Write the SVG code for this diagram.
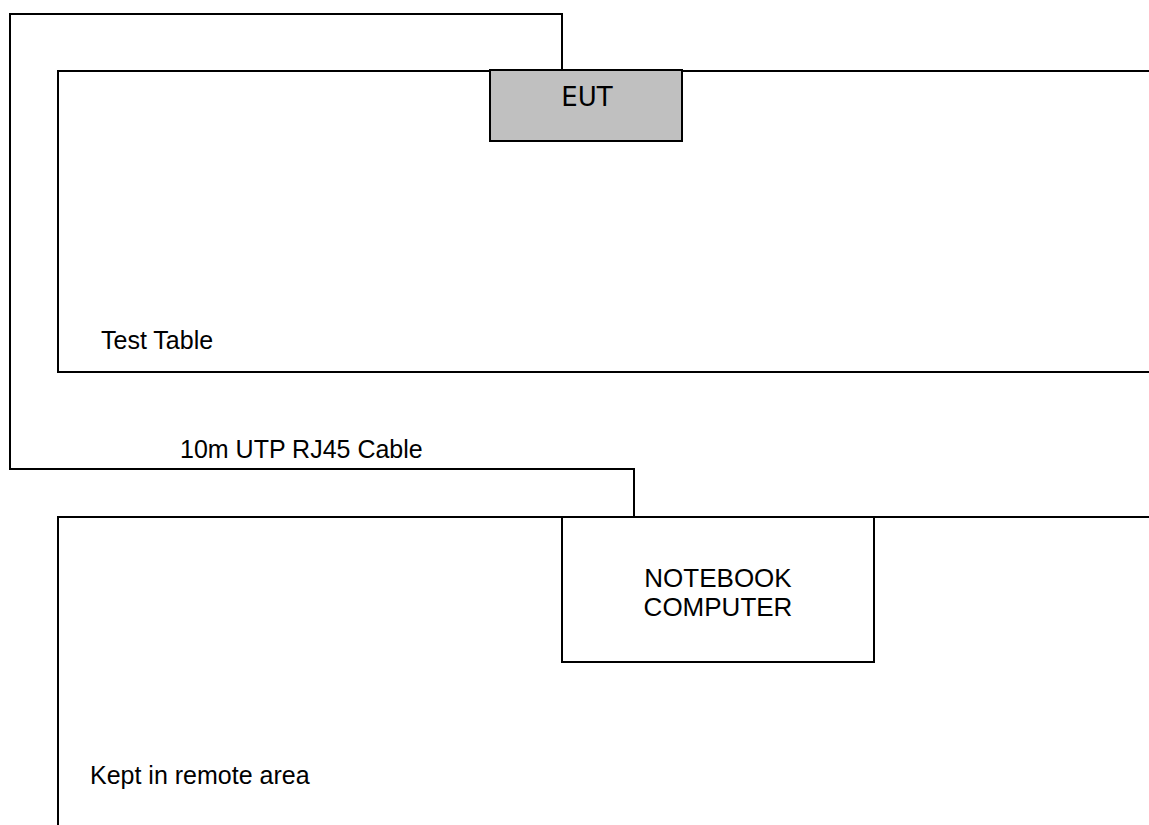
<svg xmlns="http://www.w3.org/2000/svg" width="1149" height="825" viewBox="0 0 1149 825">
<style>
.ln{fill:none;stroke:#000;stroke-width:2}
.t{font-family:"Liberation Sans",Arial,sans-serif;font-size:25px;fill:#000}
.big{font-size:26px}
.dv{font-family:"DejaVu Sans",sans-serif;font-size:26px;fill:#000}
</style>
<rect width="1149" height="825" fill="#fff"/>
<g id="test-table">
<path class="ln" d="M1149,71 H58 V372 H1149"/>
<text class="t" x="101" y="349">Test Table</text>
</g>
<g id="remote-area">
<path class="ln" d="M1149,517 H58 V825"/>
<text class="t" x="90" y="784">Kept in remote area</text>
</g>
<g id="connectors">
<path class="ln" d="M562,71 V14 H10 V469 H634 V517"/>
<text class="t" x="180" y="458">10m UTP RJ45 Cable</text>
</g>
<g id="eut">
<rect x="490" y="70" width="192" height="71" fill="#c0c0c0" stroke="#000" stroke-width="2"/>
<text class="dv" x="587" y="106" text-anchor="middle">EUT</text>
</g>
<g id="notebook">
<rect x="562" y="517" width="312" height="145" fill="#fff" stroke="#000" stroke-width="2"/>
<text class="t big" x="718" y="587" text-anchor="middle">NOTEBOOK</text>
<text class="t big" x="718" y="616" text-anchor="middle">COMPUTER</text>
</g>
</svg>
